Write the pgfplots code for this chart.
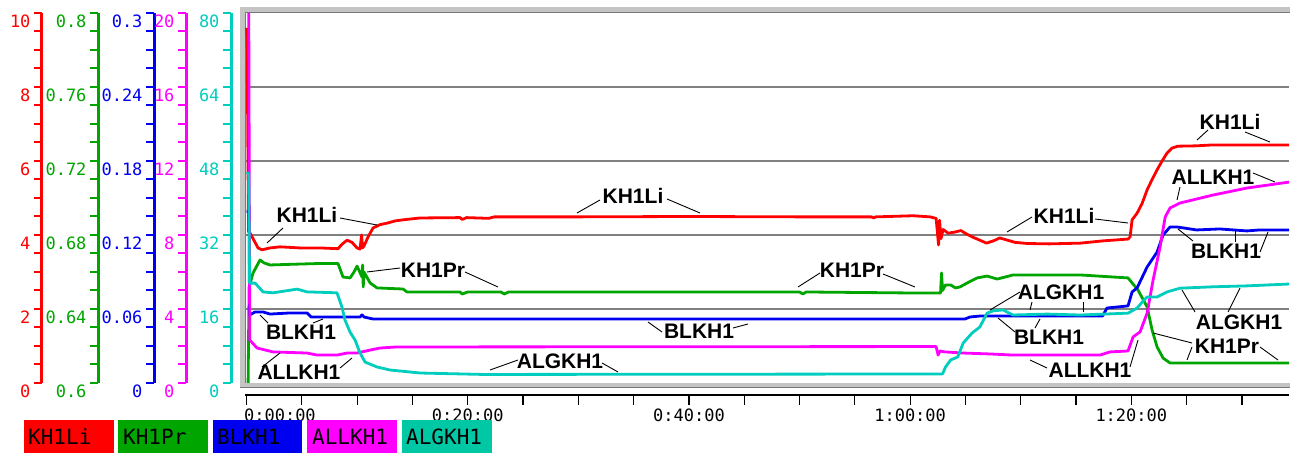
\documentclass[border=0pt]{standalone}
\usepackage{pgfplots}
\pgfplotsset{compat=1.18}
\usepackage{fontspec}
\setmainfont{Liberation Sans}
\newfontfamily\monofont{DejaVu Sans Mono}
\definecolor{cRed}{RGB}{255,0,0}
\definecolor{cGreen}{RGB}{0,165,0}
\definecolor{cBlue}{RGB}{0,0,240}
\definecolor{cMag}{RGB}{255,0,255}
\definecolor{cCyan}{RGB}{0,205,190}
\definecolor{cCyanBox}{RGB}{0,200,165}
\definecolor{frameLight}{RGB}{196,196,196}
\definecolor{frameDark}{RGB}{120,120,120}
\definecolor{gridGray}{RGB}{128,128,128}
\pgfplotsset{
  plotarea/.style={scale only axis, width=1044pt, height=370pt, at={(245pt,72pt)}, anchor=south west, xmin=-0.14, xmax=94.26},
  series/.style={line width=2.8pt, line join=round, no markers},
  scalebar/.style={scale only axis, width=1pt, height=370pt, anchor=south west, xmin=0, xmax=1,
    hide x axis, axis y line*=left, clip=false,
    y axis line style={-, line width=3pt, draw=#1},
    tick align=outside, major tick length=8pt, minor tick length=8pt,
    ytick style={line width=2pt, draw=#1},
    yticklabel style={font=\monofont\fontsize{17}{17}\selectfont, text=#1, anchor=east, yshift=-8.5pt}},
}
\newcommand{\callout}[3]{\node[font=\fontsize{21}{21}\selectfont\bfseries, inner sep=0pt] at (#1,#2) {#3};}
\begin{document}
\begin{tikzpicture}[x=1pt,y=1pt]
\useasboundingbox (0,0) rectangle (1303,455);
% frame
\fill[frameLight] (240,67) rectangle (1290,72);
\fill[frameLight] (240,443) rectangle (1290,448);
\fill[frameLight] (240,67) rectangle (245,448);
\draw[frameDark, line width=1pt] (245.5,72) -- (245.5,442.5) -- (1290,442.5);
\draw[frameDark, line width=1pt] (240,67.5) -- (1290,67.5);

% grid
\begin{axis}[plotarea, ymin=0, ymax=10, ytick={2,4,6,8}, xtick=\empty, ymajorgrids,
  major grid style={gridGray, line width=1.3pt}, yticklabels={}, major tick length=0pt, axis line style={draw=none}]
\end{axis}

% time axis
\begin{axis}[scale only axis, width=1044pt, height=10pt, at={(245pt,60pt)}, anchor=south west,
  xmin=-0.14, xmax=94.26, ymin=0, ymax=1, hide y axis, axis x line*=bottom,
  x axis line style={-, black, line width=1.2pt},
  xtick={20,40,60,80}, minor xtick={5,10,15,25,30,35,45,50,55,65,70,75,85,90},
  tick align=outside, major tick length=10pt, minor tick length=10pt,
  xtick style={black, line width=1.2pt},
  xticklabels={0:20:00,0:40:00,1:00:00,1:20:00},
  xticklabel style={font=\monofont\fontsize{17}{17}\selectfont, anchor=north},
  extra x ticks={0}, extra x tick labels={0:00:00},
  extra x tick style={xticklabel style={anchor=north west, xshift=-6pt}}]
\end{axis}

% scale axes
\begin{axis}[scalebar=cRed, at={(42pt,72pt)}, ymin=0, ymax=10, ytick={0,2,4,6,8,10},
  minor ytick={0.5,1,1.5,2.5,3,3.5,4.5,5,5.5,6.5,7,7.5,8.5,9,9.5}, yticklabels={0,2,4,6,8,10}]
\end{axis}
\begin{axis}[scalebar=cGreen, at={(98pt,72pt)}, ymin=0.6, ymax=0.8, ytick={0.6,0.64,0.68,0.72,0.76,0.8},
  minor ytick={0.61,0.62,0.63,0.65,0.66,0.67,0.69,0.70,0.71,0.73,0.74,0.75,0.77,0.78,0.79},
  yticklabels={0.6,0.64,0.68,0.72,0.76,0.8}]
\end{axis}
\begin{axis}[scalebar=cBlue, at={(154pt,72pt)}, ymin=0, ymax=0.3, ytick={0,0.06,0.12,0.18,0.24,0.3},
  minor ytick={0.015,0.03,0.045,0.075,0.09,0.105,0.135,0.15,0.165,0.195,0.21,0.225,0.255,0.27,0.285},
  yticklabels={0,0.06,0.12,0.18,0.24,0.3}]
\end{axis}
\begin{axis}[scalebar=cMag, at={(186pt,72pt)}, ymin=0, ymax=20, ytick={0,4,8,12,16,20},
  minor ytick={1,2,3,5,6,7,9,10,11,13,14,15,17,18,19}, yticklabels={0,4,8,12,16,20}]
\end{axis}
\begin{axis}[scalebar=cCyan, at={(231pt,72pt)}, ymin=0, ymax=80, ytick={0,16,32,48,64,80},
  minor ytick={4,8,12,20,24,28,36,40,44,52,56,60,68,72,76}, yticklabels={0,16,32,48,64,80}]
\end{axis}

% KH1Li
\begin{axis}[plotarea, hide axis, ymin=0, ymax=10]
\addplot[series, cRed] table {
0 9.6
0.05 9.2
0.18 4.10
0.32 4.05
0.68 3.85
1.04 3.65
1.40 3.60
2.12 3.65
3.03 3.68
4.84 3.65
6.65 3.65
8.27 3.63
8.63 3.75
9.09 3.86
9.54 3.80
9.99 3.65
10.26 3.62
10.40 4.00
10.49 3.65
10.62 3.70
10.99 3.95
11.44 4.19
12.07 4.28
12.70 4.32
13.43 4.38
14.15 4.41
15.69 4.46
19.3 4.47
19.5 4.42
19.9 4.47
21.9 4.45
22.4 4.49
30.0 4.49
40.0 4.50
50.0 4.49
56.5 4.49
56.7 4.46
56.9 4.49
60.26 4.52
61.8 4.49
62.35 4.45
62.57 3.73
62.66 4.40
62.79 3.90
62.98 4.15
63.43 4.05
64.06 4.08
64.6 4.12
64.96 4.05
65.6 3.95
66.3 3.86
66.9 3.78
67.6 3.85
68.1 3.92
68.8 3.86
69.5 3.80
70.6 3.77
72.6 3.76
75.4 3.78
77.4 3.84
79.7 3.89
79.89 3.95
80.07 4.41
80.52 4.59
80.97 4.85
81.43 5.22
81.88 5.50
82.33 5.76
82.78 6.00
83.24 6.22
83.69 6.35
84.2 6.40
85.9 6.41
87.1 6.43
94.26 6.43
};
\end{axis}

% KH1Pr
\begin{axis}[plotarea, hide axis, ymin=0.6, ymax=0.8]
\addplot[series, cGreen] table {
0.14 0.600
0.23 0.6519
0.59 0.6595
1.22 0.6665
1.58 0.6649
2.12 0.6638
4.84 0.6643
6.65 0.6646
8.27 0.6646
8.72 0.6573
9.36 0.6568
9.72 0.6600
9.99 0.6632
10.44 0.6573
10.50 0.6638
10.55 0.6519
10.62 0.6600
11.17 0.6541
11.80 0.6514
14.15 0.6508
14.51 0.6492
19.3 0.6492
19.5 0.6481
20.0 0.6492
23.0 0.6492
23.3 0.6481
23.7 0.6492
40 0.6492
50.0 0.6492
50.3 0.6481
50.6 0.6492
61.17 0.6486
62.75 0.6486
62.84 0.6595
62.93 0.6500
63.2 0.6530
63.66 0.6530
64.1 0.6514
64.5 0.6519
65.17 0.6541
66.06 0.6568
66.96 0.6578
67.87 0.6562
68.6 0.6573
69.3 0.6584
75.37 0.6584
79.7 0.6568
80.6 0.6503
81.43 0.6411
81.88 0.6286
82.33 0.6195
82.87 0.6135
83.5 0.6108
84.14 0.6108
94.26 0.6108
};
\end{axis}

% BLKH1
\begin{axis}[plotarea, hide axis, ymin=0, ymax=0.3]
\addplot[series, cBlue] table {
0 0.139
0.05 0.139
0.23 0.139
0.27 0.0551
0.77 0.0576
1.49 0.0576
2.12 0.0559
3.93 0.0568
5.47 0.0568
5.83 0.0535
10.26 0.0535
10.44 0.0552
10.62 0.0535
11.44 0.0519
64.96 0.0519
65.4 0.0535
66.3 0.0543
77.4 0.0543
77.8 0.0608
79.7 0.0625
80.07 0.0738
80.52 0.0771
81.43 0.0941
82.33 0.1062
82.87 0.1200
83.5 0.1265
84.14 0.1265
85.9 0.1241
88.0 0.1249
90.45 0.1233
91.6 0.1241
94.26 0.1241
};
\end{axis}

% ALLKH1
\begin{axis}[plotarea, hide axis, ymin=0, ymax=20]
\addplot[series, cMag] table {
0.2 20.0
0.29 2.32
0.95 1.89
2.40 1.68
5.47 1.62
6.37 1.51
8.18 1.51
9.09 1.62
9.99 1.62
11.17 1.78
12.07 1.89
13.61 1.95
18.13 1.95
62.35 1.97
62.53 1.51
62.7 1.73
63.16 1.68
64.77 1.62
67.2 1.57
69.3 1.51
77.17 1.51
78.07 1.68
79.7 1.73
80.16 2.49
80.79 2.76
81.43 3.78
81.97 5.57
82.6 7.35
83.06 8.97
83.5 9.46
84.41 9.73
87.39 10.16
90.47 10.54
94.26 10.86
};
\end{axis}

% ALGKH1
\begin{axis}[plotarea, hide axis, ymin=0, ymax=80]
\addplot[series, cCyan] table {
0.05 45.6
0.2 45.0
0.27 21.6
0.77 21.6
1.49 19.7
2.40 19.5
4.57 20.3
5.47 19.7
8.18 19.5
8.63 16.4
8.9 13.6
9.36 11.0
9.81 9.3
10.26 6.5
10.71 4.54
11.8 3.46
12.97 2.81
15.69 2.16
21.38 1.85
62.93 1.95
63.2 3.46
63.66 4.97
64.3 5.62
64.8 8.65
65.6 10.8
66.3 12.1
66.96 15.1
67.5 15.6
68.4 15.8
69.3 14.7
72.4 14.9
75.37 14.7
79.7 15.1
80.52 16.2
81.06 17.7
81.43 18.6
82.33 18.6
83.24 19.7
84.41 20.5
87.39 20.8
90.47 21.0
94.26 21.4
};
\end{axis}

% callouts (image px -> x, 455-y)
\begin{scope}[line width=0.9pt, black]
\callout{307}{240}{KH1Li}
\draw (283,227)--(267,212); \draw (340,237)--(377,230);
\callout{633}{259}{KH1Li}
\draw (600,255)--(577,242); \draw (667,256)--(700,242);
\callout{1064}{239}{KH1Li}
\draw (1032,238)--(1007,223); \draw (1095,236)--(1128,232);
\callout{1230}{333}{KH1Li}
\draw (1208,325)--(1197,315); \draw (1245,323)--(1270,313);
\callout{433}{185}{KH1Pr}
\draw (400,187)--(367,183); \draw (465,183)--(498,168);
\callout{852}{185}{KH1Pr}
\draw (820,182)--(798,168); \draw (883,181)--(915,168);
\callout{1227}{109}{KH1Pr}
\draw (1192,112)--(1153,122); \draw (1192,108)--(1187,95); \draw (1260,108)--(1278,95);
\callout{301}{123}{BLKH1}
\draw (268,132)--(260,140); \draw (313,132)--(323,136);
\callout{699}{124}{BLKH1}
\draw (662,123)--(648,133); \draw (733,127)--(748,131);
\callout{1049}{118}{BLKH1}
\draw (1015,123)--(998,137); \draw (1035,127)--(1040,136);
\callout{1226}{204}{BLKH1}
\draw (1193,214)--(1178,226); \draw (1235,213)--(1235,225); \draw (1260,203)--(1268,223);
\callout{299}{83}{ALLKH1}
\draw (262,88)--(280,102); \draw (340,87)--(352,97);
\callout{1090}{85}{ALLKH1}
\draw (1047,87)--(1030,95); \draw (1130,88)--(1138,115);
\callout{1213}{278}{ALLKH1}
\draw (1180,268)--(1177,255); \draw (1253,282)--(1275,273);
\callout{560}{94}{ALGKH1}
\draw (518,95)--(490,85); \draw (602,92)--(618,83);
\callout{1061}{163}{ALGKH1}
\draw (1020,163)--(990,145); \draw (1032,153)--(1030,145); \draw (1083,153)--(1083,143);
\callout{1239}{133}{ALGKH1}
\draw (1195,143)--(1182,165); \draw (1228,143)--(1240,167);
\end{scope}

% legend boxes
\begin{scope}[every node/.style={anchor=west, inner sep=0pt, font=\monofont\fontsize{21}{21}\selectfont, text=black}]
\fill[cRed] (24,2) rectangle (114,35); \node at (28,18.5) {KH1Li};
\fill[cGreen] (118,2) rectangle (208,35); \node at (123,18.5) {KH1Pr};
\fill[cBlue] (212.7,2) rectangle (302,35); \node at (217,18.5) {BLKH1};
\fill[cMag] (307,2) rectangle (397,35); \node at (312,18.5) {ALLKH1};
\fill[cCyanBox] (401.6,2) rectangle (492,35); \node at (406,18.5) {ALGKH1};
\end{scope}
\end{tikzpicture}
\end{document}
